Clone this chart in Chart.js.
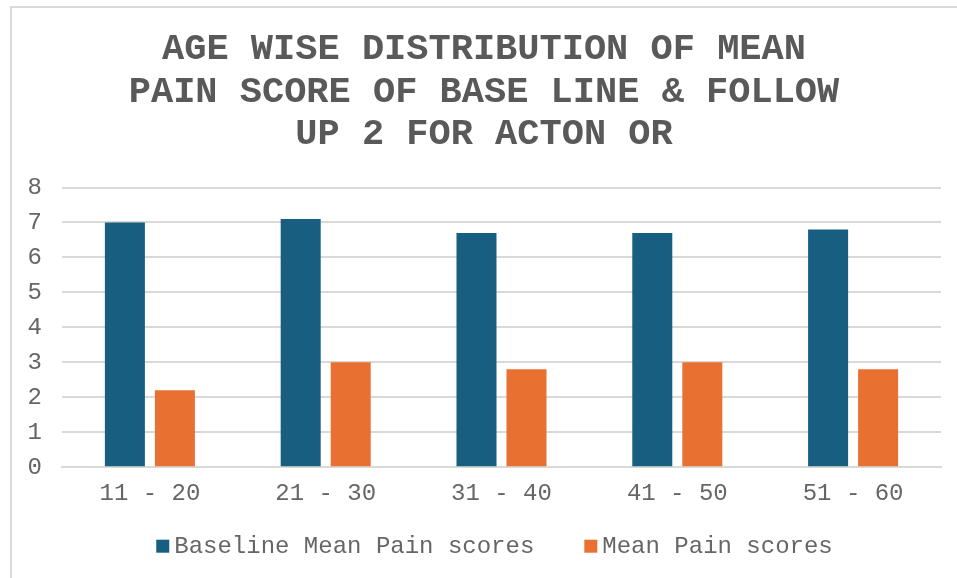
<!DOCTYPE html>
<html>
<head>
<meta charset="utf-8">
<script src="https://cdn.jsdelivr.net/npm/chart.js@4/dist/chart.umd.min.js"></script>
<style>
  html, body { margin: 0; padding: 0; background: #ffffff; }
  #wrap { position: relative; width: 957px; height: 578px; overflow: hidden; }
  #frame { position: absolute; left: 10px; top: 6px; right: -5px; bottom: -5px;
           border-left: 2px solid #d9d9d9; border-top: 2px solid #d9d9d9; pointer-events: none; }
  canvas { position: absolute; left: 0; top: 0; }
</style>
</head>
<body>
<div id="wrap">
  <canvas id="c" width="957" height="578"></canvas>
  <div id="frame"></div>
</div>
<script>
const titleLines = ['AGE WISE DISTRIBUTION OF MEAN', 'PAIN SCORE OF BASE LINE & FOLLOW', 'UP 2 FOR ACTON OR'];
const categories = ['11 - 20', '21 - 30', '31 - 40', '41 - 50', '51 - 60'];
const seriesNames = ['Baseline Mean Pain scores', 'Mean Pain scores'];
const baselineScores = [7, 7.1, 6.7, 6.7, 6.8];
const followUpScores = [2.2, 3, 2.8, 3, 2.8];
const yMin = 0;
const yMax = 8;
const yStep = 1;

const textColor = '#595959';
const labelColor = '#666666';
const gridColor = '#d9d9d9';
const mono = "'Liberation Mono', 'Courier New', monospace";

// Bottom legend drawn from the chart's own datasets (Excel-like spacing)
const bottomLegend = {
  id: 'bottomLegend',
  afterDraw(chart) {
    const ctx = chart.ctx;
    const area = chart.chartArea;
    const box = 13, boxGap = 5, itemGap = 50;
    ctx.save();
    ctx.font = '24px ' + mono;
    ctx.textBaseline = 'middle';
    ctx.textAlign = 'left';
    const items = chart.data.datasets.map(ds => ({
      text: ds.label, color: ds.backgroundColor, w: ctx.measureText(ds.label).width
    }));
    const total = items.reduce((s, it) => s + box + boxGap + it.w, 0) + itemGap * (items.length - 1);
    const cx = (area.left + area.right) / 2 - 7;
    const cy = area.bottom + 79;
    let x = cx - total / 2;
    items.forEach(it => {
      ctx.fillStyle = it.color;
      ctx.fillRect(x, cy - box / 2, box, box);
      ctx.fillStyle = labelColor;
      ctx.fillText(it.text, x + box + boxGap, cy);
      x += box + boxGap + it.w + itemGap;
    });
    ctx.restore();
  }
};

new Chart(document.getElementById('c'), {
  type: 'bar',
  data: {
    labels: categories,
    datasets: [
      { label: seriesNames[0], data: baselineScores, backgroundColor: '#175e80',
        categoryPercentage: 0.569, barPercentage: 0.8 },
      { label: seriesNames[1], data: followUpScores, backgroundColor: '#e87132',
        categoryPercentage: 0.569, barPercentage: 0.8 }
    ]
  },
  options: {
    responsive: false,
    devicePixelRatio: 1,
    animation: false,
    layout: { padding: { left: 27, right: 16, top: 29, bottom: 66 } },
    plugins: {
      title: {
        display: true,
        text: titleLines,
        color: textColor,
        font: { family: mono, size: 37, weight: 'bold', lineHeight: 1.14 },
        padding: { top: 0, bottom: 32 }
      },
      legend: { display: false },
      tooltip: { enabled: false }
    },
    scales: {
      x: {
        grid: { display: false },
        border: { display: true, color: gridColor, width: 2 },
        ticks: { color: labelColor, font: { family: mono, size: 24 }, padding: 4 }
      },
      y: {
        min: yMin,
        max: yMax,
        grid: { color: gridColor, lineWidth: 2, drawTicks: false },
        border: { display: false },
        ticks: { stepSize: yStep, color: labelColor, font: { family: mono, size: 24 }, padding: 20 },
        afterFit: (s) => { s.width = 35; }
      }
    }
  },
  plugins: [bottomLegend]
});
</script>
</body>
</html>
